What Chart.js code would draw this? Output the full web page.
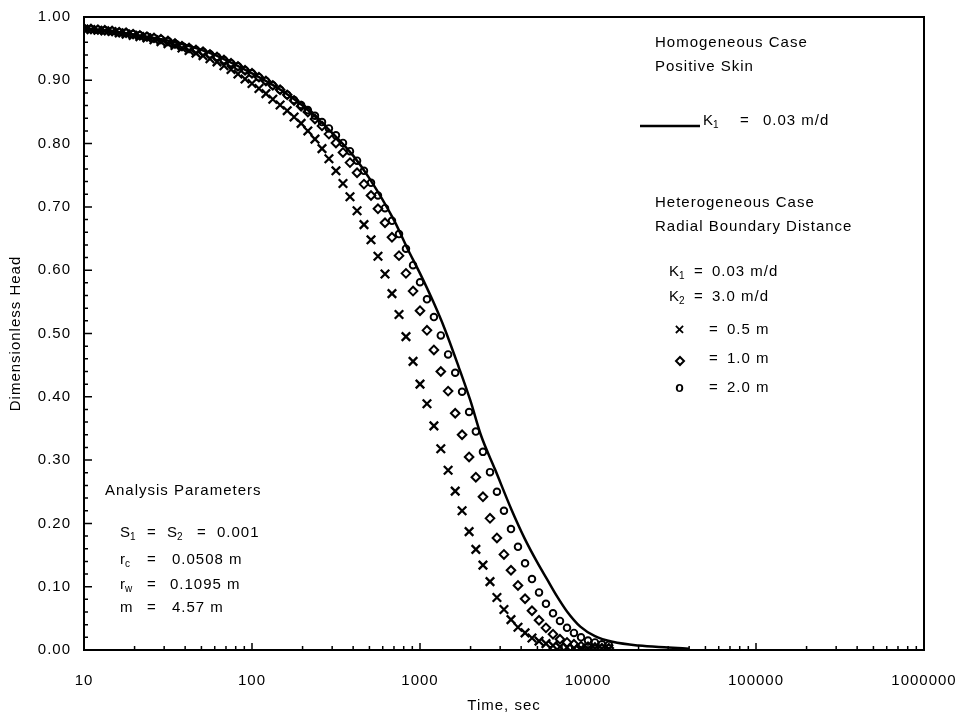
<!DOCTYPE html>
<html>
<head>
<meta charset="utf-8">
<script src="https://cdn.jsdelivr.net/npm/chart.js@4/dist/chart.umd.min.js"></script>
<style>
html,body{margin:0;padding:0;background:#fff;}
canvas{display:block;}
</style>
</head>
<body>
<canvas id="c" width="959" height="717"></canvas>
<script>
// ---- data ----
const timeSec = [10, 11, 12.1, 13.3, 14.7, 16.2, 17.8, 19.6, 21.5, 23.7,
  26.1, 28.7, 31.6, 34.8, 38.3, 42.2, 46.4, 51.1, 56.2, 61.9,
  68.1, 75, 82.5, 90.9, 100, 110, 121, 133, 147, 162,
  178, 196, 215, 237, 261, 287, 316, 348, 383, 422,
  464, 511, 562, 619, 681, 750, 825, 909, 1000, 1100,
  1210, 1330, 1470, 1620, 1780, 1960, 2150, 2370, 2610, 2870,
  3160, 3480, 3830, 4220, 4640, 5110, 5620, 6190, 6810, 7500,
  8250, 9090, 10000, 11000, 12100, 13300];

// heterogeneous case, boundary distance 0.5 m (x markers)
const head05 = [0.981, 0.980, 0.979, 0.978, 0.977, 0.975, 0.973, 0.971, 0.969, 0.967,
  0.964, 0.961, 0.958, 0.955, 0.951, 0.947, 0.943, 0.939, 0.934, 0.929,
  0.923, 0.917, 0.910, 0.902, 0.895, 0.887, 0.879, 0.870, 0.861, 0.852,
  0.842, 0.832, 0.820, 0.807, 0.792, 0.776, 0.757, 0.737, 0.716, 0.694,
  0.672, 0.648, 0.622, 0.594, 0.563, 0.530, 0.495, 0.456, 0.420, 0.389,
  0.354, 0.318, 0.284, 0.251, 0.220, 0.187, 0.159, 0.134, 0.108, 0.083,
  0.064, 0.048, 0.036, 0.027, 0.019, 0.014, 0.010, 0.007, 0.005, 0.004,
  0.003, 0.003, 0.002, 0.002, 0.002, 0.002];

// boundary distance 1.0 m (diamonds)
const head10 = [0.982, 0.981, 0.980, 0.979, 0.978, 0.976, 0.975, 0.973, 0.971, 0.969,
  0.967, 0.965, 0.962, 0.958, 0.954, 0.951, 0.948, 0.945, 0.941, 0.937,
  0.932, 0.927, 0.922, 0.916, 0.911, 0.905, 0.899, 0.892, 0.885, 0.877,
  0.868, 0.859, 0.850, 0.839, 0.828, 0.815, 0.801, 0.786, 0.770, 0.754,
  0.736, 0.718, 0.697, 0.675, 0.652, 0.623, 0.595, 0.567, 0.536, 0.505,
  0.474, 0.440, 0.409, 0.374, 0.340, 0.305, 0.273, 0.242, 0.208, 0.177,
  0.151, 0.126, 0.102, 0.081, 0.062, 0.047, 0.035, 0.025, 0.017, 0.012,
  0.009, 0.006, 0.005, 0.004, 0.003, 0.003];

// boundary distance 2.0 m (circles)
const head20 = [0.982, 0.981, 0.980, 0.979, 0.978, 0.976, 0.975, 0.973, 0.971, 0.969,
  0.967, 0.965, 0.962, 0.958, 0.954, 0.951, 0.948, 0.945, 0.941, 0.937,
  0.932, 0.927, 0.922, 0.916, 0.911, 0.905, 0.899, 0.892, 0.885, 0.877,
  0.869, 0.861, 0.853, 0.844, 0.834, 0.824, 0.813, 0.801, 0.788, 0.773,
  0.757, 0.738, 0.718, 0.698, 0.678, 0.657, 0.634, 0.608, 0.581, 0.554,
  0.526, 0.497, 0.467, 0.438, 0.408, 0.376, 0.345, 0.313, 0.281, 0.250,
  0.220, 0.191, 0.163, 0.137, 0.112, 0.091, 0.073, 0.058, 0.046, 0.035,
  0.027, 0.020, 0.015, 0.012, 0.009, 0.008];

// homogeneous case, positive skin (solid line)
const homogTime = [10, 15, 20, 30, 40, 55, 70, 100, 150, 200,
  300, 400, 500, 700, 850, 1000, 1200, 1400, 1700, 2000,
  2300, 2800, 3500, 4200, 5000, 5700, 6500, 7500, 9000, 11000,
  14000, 20000, 30000, 40000];
const homogHead = [0.982, 0.977, 0.972, 0.964, 0.956, 0.944, 0.932, 0.911, 0.884, 0.860,
  0.817, 0.781, 0.745, 0.679, 0.632, 0.595, 0.550, 0.508, 0.447, 0.393,
  0.340, 0.285, 0.222, 0.176, 0.138, 0.112, 0.086, 0.061, 0.037, 0.022,
  0.013, 0.007, 0.004, 0.002];

const xTickValues = [10, 100, 1000, 10000, 100000, 1000000];
const xTickLabels = ['10', '100', '1000', '10000', '100000', '1000000'];
const yTickValues = [0, 0.1, 0.2, 0.3, 0.4, 0.5, 0.6, 0.7, 0.8, 0.9, 1.0];
const yTickLabels = ['0.00', '0.10', '0.20', '0.30', '0.40', '0.50', '0.60', '0.70', '0.80', '0.90', '1.00'];

// ---- drawing ----
const FONT = "'Liberation Sans', Arial, Helvetica, sans-serif";
Chart.defaults.font.family = FONT;
Chart.defaults.font.size = 15;
Chart.defaults.color = '#000';

const pts = (xs, ys) => xs.map((x, i) => ({x: x, y: ys[i]}));

function put(ctx, s, x, y, size, weight) {
  ctx.font = (weight ? weight + ' ' : '') + size + 'px ' + FONT;
  ctx.fillText(s, x, y);
  return ctx.measureText(s).width;
}
function withSub(ctx, base, sub, x, y) {
  const w = put(ctx, base, x, y, 15);
  put(ctx, sub, x + w - 1, y + 4, 10);
}

const decor = {
  id: 'decor',
  beforeDraw(chart) { chart.ctx.letterSpacing = '1px'; },
  afterDraw(chart) {
    const ctx = chart.ctx, a = chart.chartArea, xs = chart.scales.x, ys = chart.scales.y;
    ctx.save();
    ctx.letterSpacing = '1px';
    ctx.strokeStyle = '#000';
    ctx.fillStyle = '#000';
    // inward tick marks
    ctx.lineWidth = 1.5;
    ctx.beginPath();
    for (let i = 0; i <= 50; i++) {
      const py = ys.getPixelForValue(i / 50);
      const len = (i % 5 === 0) ? 8 : 4;
      ctx.moveTo(a.left, py); ctx.lineTo(a.left + len, py);
    }
    for (let d = 0; d < xTickValues.length - 1; d++) {
      for (let m = 1; m <= 9; m++) {
        const px = xs.getPixelForValue(xTickValues[d] * m);
        const len = (m === 1) ? 7 : 4;
        ctx.moveTo(px, a.bottom); ctx.lineTo(px, a.bottom - len);
      }
    }
    ctx.stroke();
    // frame
    ctx.lineWidth = 2;
    ctx.strokeRect(a.left, a.top, a.right - a.left, a.bottom - a.top);

    // annotation text
    ctx.textBaseline = 'middle';
    ctx.textAlign = 'left';
    put(ctx, 'Homogeneous Case', 655, 43, 15);
    put(ctx, 'Positive Skin', 655, 67, 15);
    ctx.lineWidth = 2.5;
    ctx.beginPath(); ctx.moveTo(640, 126); ctx.lineTo(700, 126); ctx.stroke();
    withSub(ctx, 'K', '1', 703, 121);
    put(ctx, '=', 740, 121, 15);
    put(ctx, '0.03 m/d', 763, 121, 15);

    put(ctx, 'Heterogeneous Case', 655, 203, 15);
    put(ctx, 'Radial Boundary Distance', 655, 227, 15);
    withSub(ctx, 'K', '1', 669, 272);
    put(ctx, '=', 694, 272, 15);
    put(ctx, '0.03 m/d', 712, 272, 15);
    withSub(ctx, 'K', '2', 669, 297);
    put(ctx, '=', 694, 297, 15);
    put(ctx, '3.0 m/d', 712, 297, 15);

    ctx.textAlign = 'center';
    put(ctx, '\u00d7', 680, 330, 17, 'bold');
    put(ctx, 'o', 680, 388, 14, 'bold');
    ctx.textAlign = 'left';
    put(ctx, '=', 709, 330, 15);
    put(ctx, '0.5 m', 727, 330, 15);
    ctx.lineWidth = 2;
    ctx.beginPath();
    ctx.moveTo(680, 357); ctx.lineTo(684, 361); ctx.lineTo(680, 365); ctx.lineTo(676, 361); ctx.closePath();
    ctx.stroke();
    put(ctx, '=', 709, 359, 15);
    put(ctx, '1.0 m', 727, 359, 15);
    put(ctx, '=', 709, 388, 15);
    put(ctx, '2.0 m', 727, 388, 15);

    put(ctx, 'Analysis Parameters', 105, 491, 15);
    withSub(ctx, 'S', '1', 120, 533);
    put(ctx, '=', 147, 533, 15);
    withSub(ctx, 'S', '2', 167, 533);
    put(ctx, '=', 197, 533, 15);
    put(ctx, '0.001', 217, 533, 15);
    withSub(ctx, 'r', 'c', 120, 560);
    put(ctx, '=', 147, 560, 15);
    put(ctx, '0.0508 m', 172, 560, 15);
    withSub(ctx, 'r', 'w', 120, 585);
    put(ctx, '=', 147, 585, 15);
    put(ctx, '0.1095 m', 170, 585, 15);
    put(ctx, 'm', 120, 608, 15);
    put(ctx, '=', 147, 608, 15);
    put(ctx, '4.57 m', 172, 608, 15);
    ctx.restore();
  }
};

new Chart(document.getElementById('c'), {
  type: 'scatter',
  data: {
    datasets: [
      {
        label: 'Homogeneous, K1 = 0.03 m/d',
        data: pts(homogTime, homogHead),
        showLine: true,
        borderColor: '#000',
        borderWidth: 2.5,
        pointRadius: 0,
        cubicInterpolationMode: 'monotone',
        fill: false
      },
      {
        label: '0.5 m',
        data: pts(timeSec, head05),
        showLine: false,
        pointStyle: 'crossRot',
        pointRadius: 6,
        pointBorderWidth: 2.3,
        pointBorderColor: '#000',
        pointBackgroundColor: '#000'
      },
      {
        label: '1.0 m',
        data: pts(timeSec, head10),
        showLine: false,
        pointStyle: 'rectRot',
        pointRadius: 4.3,
        pointBorderWidth: 2,
        pointBorderColor: '#000',
        pointBackgroundColor: 'rgba(0,0,0,0)'
      },
      {
        label: '2.0 m',
        data: pts(timeSec, head20),
        showLine: false,
        pointStyle: 'circle',
        pointRadius: 3.3,
        pointBorderWidth: 1.9,
        pointBorderColor: '#000',
        pointBackgroundColor: 'rgba(0,0,0,0)'
      }
    ]
  },
  options: {
    responsive: false,
    animation: false,
    devicePixelRatio: 1,
    layout: {padding: {top: 17, right: 35, left: 0, bottom: 0}},
    plugins: {legend: {display: false}, tooltip: {enabled: false}, title: {display: false}},
    scales: {
      x: {
        type: 'logarithmic',
        min: 10,
        max: 1000000,
        afterBuildTicks: s => { s.ticks = xTickValues.map(v => ({value: v})); },
        afterFit: s => { s.height = 67; s.paddingLeft = 0; s.paddingRight = 0; },
        grid: {display: false, drawTicks: false},
        border: {display: false},
        ticks: {
          autoSkip: false,
          maxRotation: 0,
          padding: 22,
          callback: (v, i) => xTickLabels[i]
        },
        title: {display: true, text: 'Time, sec', padding: {top: 0, bottom: 2}, font: {size: 15}}
      },
      y: {
        type: 'linear',
        min: 0,
        max: 1,
        afterBuildTicks: s => { s.ticks = yTickValues.map(v => ({value: v})); },
        afterFit: s => { s.width = 84; s.paddingTop = 0; s.paddingBottom = 0; },
        grid: {display: false, drawTicks: false},
        border: {display: false},
        ticks: {
          padding: 13,
          callback: (v, i) => yTickLabels[i]
        },
        title: {display: true, text: 'Dimensionless Head', padding: {top: 7, bottom: 0}, font: {size: 15}}
      }
    }
  },
  plugins: [decor]
});
</script>
</body>
</html>
